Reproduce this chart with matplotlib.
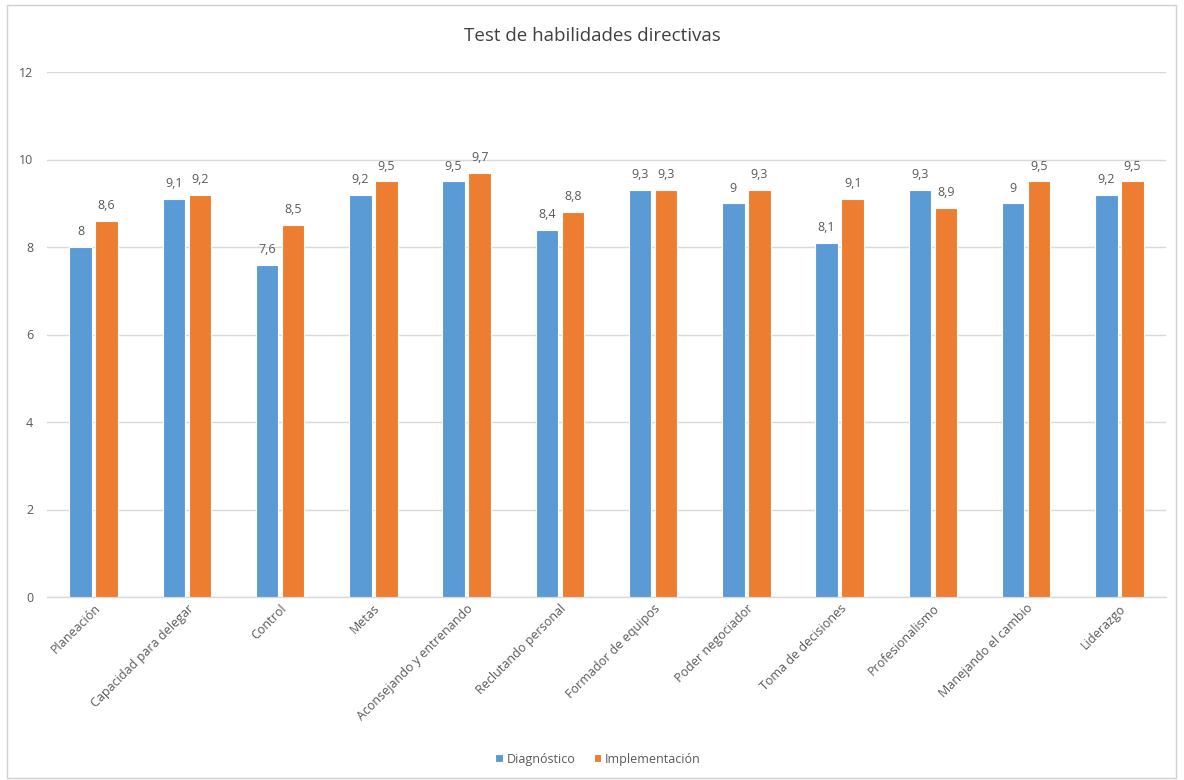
import matplotlib.pyplot as plt
import numpy as np
from matplotlib.patches import Rectangle

plt.rcParams['font.family'] = ['Open Sans', 'DejaVu Sans']

# Habilidades evaluadas y puntajes de cada etapa
habilidades = ['Planeación', 'Capacidad para delegar', 'Control', 'Metas',
               'Aconsejando y entrenando', 'Reclutando personal', 'Formador de equipos',
               'Poder negociador', 'Toma de decisiones', 'Profesionalismo',
               'Manejando el cambio', 'Liderazgo']
diagnostico = [8, 9.1, 7.6, 9.2, 9.5, 8.4, 9.3, 9, 8.1, 9.3, 9, 9.2]
implementacion = [8.6, 9.2, 8.5, 9.5, 9.7, 8.8, 9.3, 9.3, 9.1, 8.9, 9.5, 9.5]

azul = '#5B9BD5'
naranja = '#ED7D31'
gris = '#595959'

fig = plt.figure(figsize=(11.84, 7.8), dpi=100)
ax = fig.add_axes([47/1184, 1 - 597/780, (1166-47)/1184, (597-72)/780])

# marco exterior del grafico
fig.patches.append(Rectangle((7/1184, 2/780), 1169/1184, 773/780, transform=fig.transFigure,
                             fill=False, edgecolor='#d0d0d0', lw=1))

x = np.arange(len(habilidades))
ancho = 0.24
b1 = ax.bar(x - 0.14, diagnostico, ancho, color=azul, edgecolor='white', lw=0.8,
            label='Diagnóstico', zorder=3)
b2 = ax.bar(x + 0.14, implementacion, ancho, color=naranja, edgecolor='white', lw=0.8,
            label='Implementación', zorder=3)

for barras, vals in ((b1, diagnostico), (b2, implementacion)):
    for b, v in zip(barras, vals):
        txt = ('%g' % v).replace('.', ',')
        ax.text(b.get_x() + b.get_width() / 2, v + 0.2, txt, ha='center', va='bottom',
                fontsize=9, color=gris)

ax.set_xlim(-0.5, len(habilidades) - 0.5)
ax.set_ylim(0, 12)
ax.set_yticks(range(0, 13, 2))
ax.grid(axis='y', color='#d9d9d9', lw=1, zorder=0)
for s in ['top', 'right', 'left']:
    ax.spines[s].set_visible(False)
ax.spines['bottom'].set_color('#d9d9d9')
ax.spines['bottom'].set_linewidth(1)
ax.tick_params(axis='both', length=0, colors=gris, labelsize=9)
ax.tick_params(axis='y', pad=10)
ax.set_xticks(x)
ax.set_xticklabels(habilidades, rotation=45, ha='right', va='top', rotation_mode='anchor')
for lab in ax.get_xticklabels():
    lab.set_color(gris)

fig.text(0.5, 1 - 36/780, 'Test de habilidades directivas', ha='center', va='center',
         fontsize=13.5, color='#404040')

leg = fig.legend(loc='center', bbox_to_anchor=(0.505, 1 - 759/780), ncol=2, frameon=False,
                 fontsize=9, handlelength=0.6, handleheight=0.6, handletextpad=0.3,
                 columnspacing=1.5)
for t in leg.get_texts():
    t.set_color(gris)

fig.savefig('out.png', dpi=100)
